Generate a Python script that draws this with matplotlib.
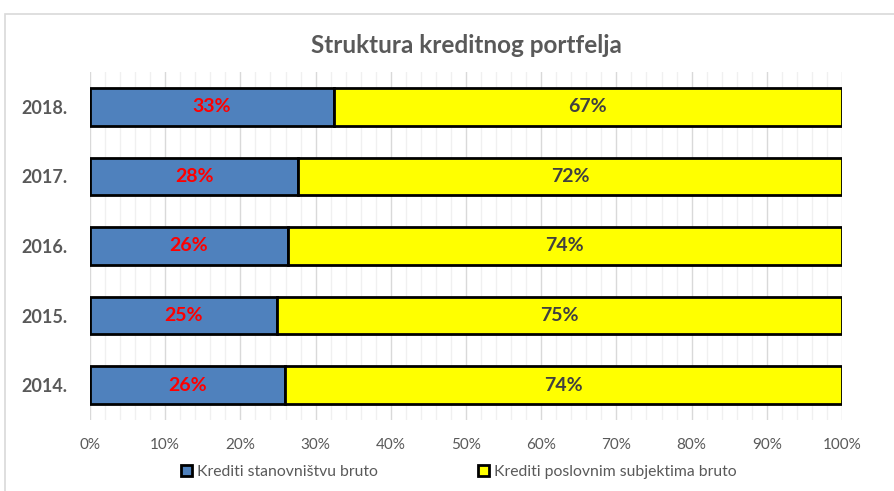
import matplotlib.pyplot as plt
from matplotlib.patches import Rectangle
from matplotlib.ticker import MultipleLocator, PercentFormatter

# data (bottom to top)
years = ['2014.', '2015.', '2016.', '2017.', '2018.']
stanovnistvo = [25.9, 24.9, 26.3, 27.7, 32.4]
poslovni = [74.1, 75.1, 73.7, 72.3, 67.6]
lbl_stan = ['26%', '25%', '26%', '28%', '33%']
lbl_posl = ['74%', '75%', '74%', '72%', '67%']

plt.rcParams['font.family'] = ['Lato', 'DejaVu Sans']

fig = plt.figure(figsize=(8.94, 4.91), dpi=100)
# light chart border like the excel frame
fig.patches.append(Rectangle((5 / 894, -0.1), 1.0, (491 - 14) / 491 + 0.1,
                             transform=fig.transFigure, fill=False,
                             edgecolor='#d9d9d9', linewidth=1.2))

ax = fig.add_axes([90 / 894, (491 - 420) / 491, 752 / 894, 348 / 491])

y = range(len(years))
ax.barh(y, stanovnistvo, height=0.54, color='#4f81bd', edgecolor='black',
        linewidth=2, label='Krediti stanovništvu bruto', zorder=3)
ax.barh(y, poslovni, left=stanovnistvo, height=0.54, color='#ffff00',
        edgecolor='black', linewidth=2,
        label='Krediti poslovnim subjektima bruto', zorder=3)

for i in y:
    ax.text(stanovnistvo[i] / 2, i, lbl_stan[i], ha='center', va='center',
            color='#ff0000', fontsize=14, fontweight='bold', zorder=4)
    ax.text(stanovnistvo[i] + poslovni[i] / 2, i, lbl_posl[i], ha='center',
            va='center', color='#404040', fontsize=14, fontweight='bold',
            zorder=4)

ax.set_xlim(0, 100)
ax.set_ylim(-0.5, 4.5)
ax.set_yticks(list(y))
ax.set_yticklabels(years, fontsize=13, fontweight='bold', color='#595959')
ax.xaxis.set_major_locator(MultipleLocator(10))
ax.xaxis.set_minor_locator(MultipleLocator(2))
ax.xaxis.set_major_formatter(PercentFormatter(decimals=0))
ax.tick_params(axis='x', which='both', length=0, pad=13, labelsize=11,
               labelcolor='#595959')
ax.tick_params(axis='y', length=0, pad=16)
ax.grid(axis='x', which='major', color='#d9d9d9', linewidth=1, zorder=0)
ax.grid(axis='x', which='minor', color='#f0f0f0', linewidth=1, zorder=0)
for sp in ax.spines.values():
    sp.set_visible(False)

ax.set_title('Struktura kreditnog portfelja', fontsize=17.5, fontweight='bold',
             color='#595959', pad=14)

ax.legend(loc='upper center', bbox_to_anchor=(0.49, -0.09), ncol=2,
          frameon=False, fontsize=11.3, labelcolor='#595959',
          handlelength=0.7, handleheight=0.7, handletextpad=0.3,
          columnspacing=6.4)

fig.savefig('out.png', dpi=100)
